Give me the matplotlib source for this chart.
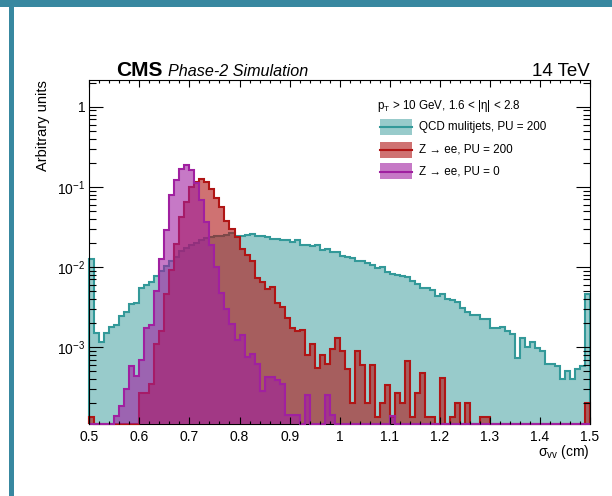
import numpy as np
import matplotlib
matplotlib.use("Agg")
import matplotlib.pyplot as plt
from matplotlib.patches import Rectangle
from matplotlib.lines import Line2D
from matplotlib.ticker import FixedLocator, MultipleLocator, LogLocator, NullFormatter, FuncFormatter

plt.rcParams['font.family'] = ['Liberation Sans', 'DejaVu Sans']
plt.rcParams['mathtext.fontset'] = 'custom'
plt.rcParams['mathtext.rm'] = 'Liberation Sans'
plt.rcParams['mathtext.it'] = 'Liberation Sans:italic'
plt.rcParams['mathtext.bf'] = 'Liberation Sans:bold'

# sigma_vv binning: 100 bins of 0.01 cm between 0.5 and 1.5
x_lo, x_hi, n_bins = 0.5, 1.5, 100

# normalised distributions (arbitrary units), one value per bin
qcd_pu200 = [
    0.0126, 1.5e-3, 1.15e-3, 1.52e-3, 1.81e-3, 1.9e-3, 2.47e-3, 2.74e-3, 3.48e-3, 3.6e-3,
    5.46e-3, 6.0e-3, 6.5e-3, 7.7e-3, 8.8e-3, 0.0102, 0.0118, 0.0135, 0.016, 0.0175,
    0.019, 0.020, 0.0216, 0.023, 0.0237, 0.0246, 0.0246, 0.0254, 0.0266, 0.0245,
    0.0242, 0.0248, 0.0256, 0.0242, 0.0242, 0.0237, 0.0224, 0.0224, 0.022, 0.0216,
    0.0204, 0.0216, 0.019, 0.0187, 0.0182, 0.0187, 0.0165, 0.0169, 0.0154, 0.0154,
    0.0138, 0.0134, 0.0131, 0.0118, 0.012, 0.0112, 0.0107, 0.0096, 0.0100, 0.0086,
    0.0083, 0.0080, 0.0077, 0.0075, 0.0066, 0.0062, 0.0054, 0.0054, 0.0052, 0.0043,
    0.00465, 0.0040, 0.00384, 0.00366, 0.0031, 0.00274, 0.00254, 0.00254, 0.00227, 0.00227,
    0.00175, 0.00175, 0.0018, 0.00158, 0.00144, 0.00074, 0.00131, 0.0010, 0.00116, 0.00098,
    0.00089, 0.00061, 0.00062, 0.00059, 0.00040, 0.00050, 0.00040, 0.00054, 0.00059, 0.00465,
]

zee_pu200 = [
    1.36e-4, 0, 0, 0, 0, 0, 0, 0, 0, 0,
    2.7e-4, 2.7e-4, 3.5e-4, 1.08e-3, 1.6e-3, 4.6e-3, 9.3e-3, 0.0196, 0.042, 0.065,
    0.100, 0.114, 0.126, 0.115, 0.094, 0.073, 0.056, 0.038, 0.030, 0.0237,
    0.0168, 0.0142, 0.012, 7.4e-3, 6.5e-3, 5.3e-3, 5.6e-3, 3.55e-3, 3.2e-3, 2.3e-3,
    1.75e-3, 1.58e-3, 1.62e-3, 8.1e-4, 1.08e-3, 5.5e-4, 8.1e-4, 6.2e-4, 9.5e-4, 1.31e-3,
    8.9e-4, 5.4e-4, 2.0e-4, 8.9e-4, 6.0e-4, 2.0e-4, 6.0e-4, 1.35e-4, 2.0e-4, 3.4e-4,
    1.35e-4, 2.7e-4, 2.0e-4, 6.7e-4, 1.35e-4, 2.7e-4, 4.8e-4, 1.35e-4, 1.35e-4, 0,
    4.1e-4, 0, 1.35e-4, 2.0e-4, 0, 2.0e-4, 0, 0, 1.35e-4, 1.35e-4,
    0, 0, 0, 0, 0, 0, 0, 0, 0, 0,
    0, 0, 0, 0, 0, 0, 0, 0, 0, 2.0e-4,
]

zee_pu0 = [
    0, 0, 0, 0, 0, 1.39e-4, 1.85e-4, 2.99e-4, 5.84e-4, 4.38e-4,
    6.95e-4, 1.73e-3, 1.9e-3, 4.97e-3, 0.0126, 0.0293, 0.080, 0.1236, 0.169, 0.190,
    0.162, 0.112, 0.0695, 0.037, 0.019, 0.010, 4.8e-3, 3.0e-3, 1.96e-3, 1.23e-3,
    1.42e-3, 7.6e-4, 8.3e-4, 6.1e-4, 2.8e-4, 4.3e-4, 4.3e-4, 3.9e-4, 3.5e-4, 1.43e-4,
    1.43e-4, 1.43e-4, 0, 2.5e-4, 0, 0, 0, 2.5e-4, 1.43e-4, 0,
    0, 0, 0, 0, 0, 0, 0, 0, 0, 0,
    1.4e-4, 0, 0, 0, 0, 0, 0, 0, 0, 0,
    0, 0, 0, 0, 0, 0, 0, 0, 0, 0,
    0, 0, 0, 0, 0, 0, 0, 0, 0, 0,
    0, 0, 0, 0, 0, 0, 0, 0, 0, 0,
]

labels = ["QCD mulitjets, PU = 200", "Z \u2192 ee, PU = 200", "Z \u2192 ee, PU = 0"]
x_ticks = [0.5, 0.6, 0.7, 0.8, 0.9, 1.0, 1.1, 1.2, 1.3, 1.4, 1.5]
y_ticks = [1e-3, 1e-2, 1e-1, 1]
y_tick_labels = ["$10^{-3}$", "$10^{-2}$", "$10^{-1}$", "1"]

line_colors = ["#339999", "#b01515", "#a020a0"]
fill_alphas = [0.5, 0.6, 0.6]

Y_MIN, Y_MAX = 1.1e-4, 2.157
W, H = 612, 496

fig = plt.figure(figsize=(W / 100, H / 100), dpi=100)


def fx(x):
    return x / W


def fy(y):
    return 1 - y / H


ax = fig.add_axes([fx(89.3), fy(424), (590 - 89.3) / W, (424 - 80) / H])
edges = np.linspace(x_lo, x_hi, n_bins + 1)

series = [qcd_pu200, zee_pu200, zee_pu0]
z = 1.0
for vals, lc, a in zip(series, line_colors, fill_alphas):
    v = np.asarray(vals, dtype=float)
    v = np.where(v > 0, v, Y_MIN)
    ax.stairs(v, edges, baseline=Y_MIN, fill=True, facecolor=lc, alpha=a,
              edgecolor="none", linewidth=0, zorder=z)
    ax.stairs(v, edges, baseline=Y_MIN, fill=False, edgecolor=lc,
              linewidth=1.5, zorder=z + 0.01, clip_on=False)
    z += 0.02

ax.set_yscale("log")
ax.set_xlim(x_lo, x_hi)
ax.set_ylim(Y_MIN, Y_MAX)

ax.xaxis.set_major_locator(FixedLocator(x_ticks))
ax.xaxis.set_major_formatter(FuncFormatter(lambda v, p: f"{v:g}"))
ax.xaxis.set_minor_locator(MultipleLocator(0.02))
ax.yaxis.set_major_locator(FixedLocator(y_ticks))
ax.set_yticklabels(y_tick_labels)
ax.yaxis.set_minor_locator(LogLocator(base=10, subs=np.arange(2, 10)))
ax.yaxis.set_minor_formatter(NullFormatter())

ax.tick_params(axis="both", which="both", direction="in", top=True, right=True,
               width=0.8, color="black", labelsize=10)
ax.tick_params(axis="x", which="major", length=5, pad=4)
ax.tick_params(axis="x", which="minor", length=2.5)
ax.tick_params(axis="y", which="major", length=10, pad=3)
ax.tick_params(axis="y", which="minor", length=5)
for s in ax.spines.values():
    s.set_linewidth(0.8)
ax.spines["bottom"].set_zorder(0.9)

# axis titles
fig.text(fx(590), fy(452), "\u03c3$_{\\mathrm{vv}}$ (cm)", ha="right", va="center", fontsize=10)
fig.text(fx(43), fy(80), "Arbitrary units", rotation=90, ha="center", va="top", fontsize=10.5)

# header
fig.text(fx(116), fy(76), "CMS", fontsize=15, fontweight="bold", va="baseline")
fig.text(fx(168), fy(76), "Phase-2 Simulation", fontsize=11.6, style="italic", va="baseline")
fig.text(fx(590), fy(76), "14 TeV", fontsize=13.5, ha="right", va="baseline")

# legend
fig.text(fx(377), fy(106), "p$_{\\mathrm{T}}$ > 10 GeV, 1.6 < |\u03b7| < 2.8", fontsize=8.4,
         va="center", ha="left")
for yc, lc, a, lab in zip([127, 149.5, 171.5], line_colors, fill_alphas, labels):
    fig.add_artist(Rectangle((fx(380), fy(yc + 8)), 32 / W, 16 / H, facecolor=lc, alpha=a,
                             edgecolor="none", transform=fig.transFigure))
    fig.add_artist(Line2D([fx(380), fx(412)], [fy(yc), fy(yc)], color=lc, linewidth=1.5,
                          transform=fig.transFigure))
    fig.text(fx(419), fy(yc), lab, fontsize=8.4, va="center", ha="left")

# page frame
frame_color = "#3888a0"
fig.add_artist(Rectangle((0, fy(7)), 1, 7 / H, facecolor=frame_color, edgecolor="none",
                         transform=fig.transFigure))
fig.add_artist(Rectangle((fx(9), 0), 5 / W, 1, facecolor=frame_color, edgecolor="none",
                         transform=fig.transFigure))

fig.savefig("out.png", dpi=100)
